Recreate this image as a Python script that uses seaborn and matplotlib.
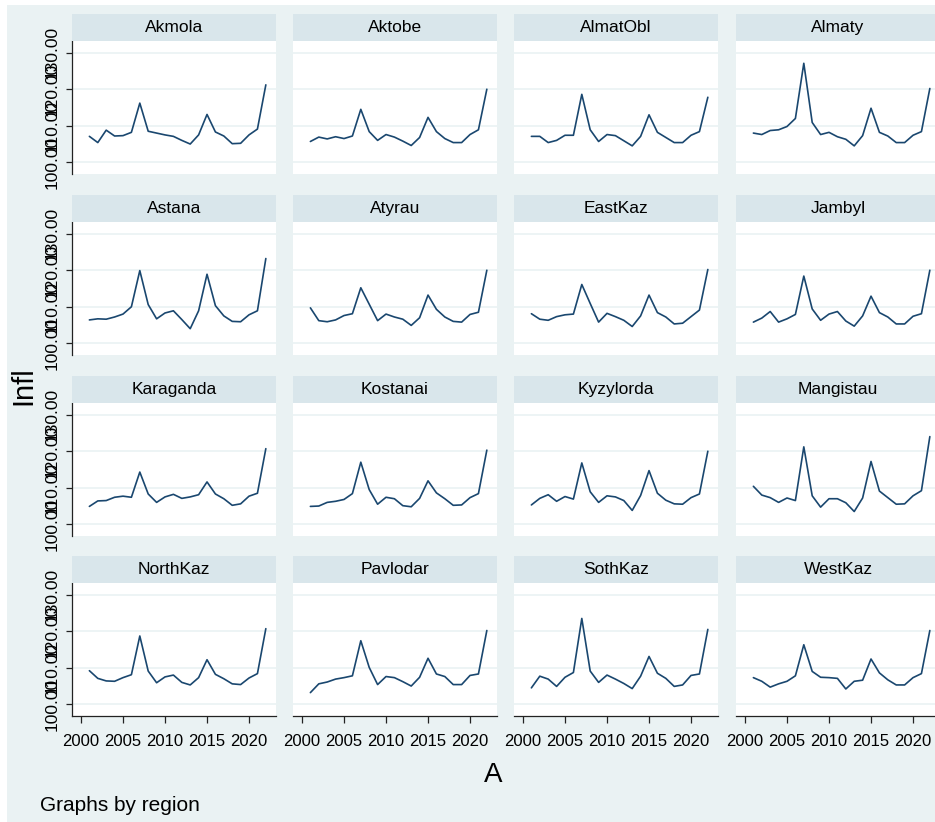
import matplotlib
matplotlib.use("Agg")
import matplotlib.pyplot as plt
from matplotlib.patches import Rectangle
from matplotlib.ticker import FormatStrFormatter
import seaborn as sns
import pandas as pd

# Annual inflation index by region, 2001-2022
years = list(range(2001, 2023))

regions = ["Akmola", "Aktobe", "AlmatObl", "Almaty",
           "Astana", "Atyrau", "EastKaz", "Jambyl",
           "Karaganda", "Kostanai", "Kyzylorda", "Mangistau",
           "NorthKaz", "Pavlodar", "SothKaz", "WestKaz"]

akmola = [107.1, 105.4, 108.8, 107.2, 107.3, 108.2, 116.2, 108.5, 108.0, 107.5, 107.1,
          106.0, 105.0, 107.5, 113.1, 108.3, 107.2, 105.1, 105.2, 107.5, 109.1, 121.2]
aktobe = [105.7, 106.9, 106.4, 107.0, 106.5, 107.2, 114.5, 108.4, 106.0, 107.6, 106.9,
          105.8, 104.6, 106.8, 112.3, 108.4, 106.5, 105.4, 105.4, 107.6, 108.9, 120.0]
almatobl = [107.1, 107.1, 105.4, 106.0, 107.4, 107.4, 118.6, 108.9, 105.7, 107.6, 107.3,
            105.9, 104.5, 107.1, 113.0, 108.2, 106.8, 105.4, 105.4, 107.4, 108.4, 117.8]
almaty = [108.0, 107.6, 108.7, 108.9, 109.8, 112.0, 127.1, 110.9, 107.6, 108.2, 107.0,
          106.3, 104.5, 107.3, 114.8, 108.2, 107.2, 105.4, 105.4, 107.4, 108.4, 120.2]
astana = [106.4, 106.7, 106.6, 107.2, 108.0, 110.0, 119.9, 110.6, 106.7, 108.3, 108.9,
          106.5, 104.0, 108.9, 118.9, 110.3, 107.5, 106.0, 105.9, 107.8, 108.9, 123.2]
atyrau = [109.7, 106.2, 105.9, 106.4, 107.6, 108.1, 115.2, 110.7, 106.2, 108.0, 107.2,
          106.6, 104.9, 107.0, 113.2, 109.3, 107.2, 106.0, 105.8, 107.9, 108.5, 120.0]
eastkaz = [108.1, 106.6, 106.3, 107.3, 107.8, 108.0, 116.1, 110.9, 105.8, 108.2, 107.3,
           106.3, 104.6, 107.5, 113.2, 108.4, 107.2, 105.3, 105.5, 107.3, 109.1, 120.2]
jambyl = [105.8, 106.9, 108.7, 105.8, 106.7, 107.9, 118.4, 109.4, 106.3, 108.0, 108.7,
          106.1, 104.7, 107.5, 112.9, 108.4, 107.2, 105.3, 105.3, 107.4, 108.1, 120.0]
karaganda = [104.9, 106.4, 106.5, 107.4, 107.7, 107.4, 114.3, 108.3, 106.0, 107.5, 108.2,
             107.1, 107.5, 108.1, 111.6, 108.3, 107.0, 105.2, 105.6, 107.7, 108.5, 120.7]
kostanai = [104.9, 105.0, 106.0, 106.3, 106.8, 108.4, 117.0, 109.5, 105.5, 107.4, 107.0,
            105.1, 104.8, 107.1, 111.9, 108.6, 107.0, 105.2, 105.3, 107.3, 108.4, 120.3]
kyzylorda = [105.3, 107.1, 108.1, 106.3, 107.6, 106.9, 116.8, 108.9, 106.0, 107.8, 107.5,
             106.5, 103.8, 107.9, 114.7, 108.5, 106.6, 105.6, 105.5, 107.3, 108.3, 120.0]
mangistau = [110.4, 108.0, 107.3, 106.0, 107.2, 106.5, 121.2, 107.8, 104.7, 107.0, 107.0,
             105.9, 103.5, 107.2, 117.2, 109.1, 107.3, 105.5, 105.6, 107.8, 109.2, 124.0]
northkaz = [109.2, 107.1, 106.4, 106.3, 107.3, 108.1, 118.7, 109.1, 105.9, 107.5, 108.0,
            106.0, 105.3, 107.3, 112.2, 108.2, 107.0, 105.6, 105.4, 107.2, 108.4, 120.7]
pavlodar = [103.2, 105.6, 106.1, 106.9, 107.3, 107.8, 117.4, 110.1, 105.4, 107.6, 107.3,
            106.2, 105.0, 107.4, 112.6, 108.3, 107.6, 105.4, 105.4, 107.9, 108.3, 120.2]
sothkaz = [104.5, 107.7, 106.9, 104.9, 107.4, 108.7, 123.5, 109.1, 106.0, 108.0, 106.9,
           105.7, 104.3, 107.7, 113.1, 108.5, 107.1, 104.9, 105.3, 107.9, 108.3, 120.5]
westkaz = [107.3, 106.3, 104.7, 105.6, 106.3, 107.8, 116.3, 109.0, 107.4, 107.3, 107.1,
           104.2, 106.3, 106.6, 112.4, 108.6, 106.7, 105.3, 105.3, 107.3, 108.4, 120.2]

series = [akmola, aktobe, almatobl, almaty, astana, atyrau, eastkaz, jambyl,
          karaganda, kostanai, kyzylorda, mangistau, northkaz, pavlodar, sothkaz, westkaz]

y_ticks = [100, 110, 120, 130]
x_ticks = [2000, 2005, 2010, 2015, 2020]

df = pd.DataFrame({
    "region": [r for r in regions for _ in years],
    "A": years * len(regions),
    "Infl": [v for s in series for v in s],
})

BG = "#EAF2F3"
STRIP = "#D9E6EB"
GRID = "#EAF2F3"
LINE = "#1A476F"

sns.set_theme(style="white")
plt.rcParams["font.family"] = ["Liberation Sans", "DejaVu Sans"]

W, H = 935, 822
fig = plt.figure(figsize=(W / 100, H / 100), dpi=100)
fig.patch.set_facecolor("white")
fig.add_artist(Rectangle((7 / W, 0), 1, (H - 5) / H, transform=fig.transFigure,
                         facecolor=BG, edgecolor="none", zorder=-10))

col_x = [72, 293, 514, 736]
row_y = [41, 222, 403, 583]
pw, ph, sh = 204, 133, 27

for i, reg in enumerate(regions):
    r, c = divmod(i, 4)
    left = col_x[c] / W
    bottom = (H - row_y[r] - ph) / H
    ax = fig.add_axes([left, bottom, pw / W, ph / H])
    ax.set_facecolor("white")

    # strip header above each panel
    fig.add_artist(Rectangle((left, (H - row_y[r]) / H), pw / W, sh / H,
                             transform=fig.transFigure, facecolor=STRIP,
                             edgecolor="none", zorder=1))
    fig.text((col_x[c] + pw / 2) / W, (H - row_y[r] + sh / 2) / H, reg,
             ha="center", va="center", fontsize=12.5, color="black", zorder=2)

    sub = df[df["region"] == reg]
    sns.lineplot(data=sub, x="A", y="Infl", ax=ax, color=LINE,
                 linewidth=1.2, legend=False)

    ax.set_xlim(1998.93, 2023.21)
    ax.set_ylim(96.8, 133.2)
    ax.set_yticks(y_ticks)
    ax.set_xticks(x_ticks)
    ax.yaxis.set_major_formatter(FormatStrFormatter("%.2f"))
    ax.yaxis.grid(True, color=GRID, linewidth=1.2)
    ax.xaxis.grid(False)
    ax.set_axisbelow(True)
    ax.set_xlabel("")
    ax.set_ylabel("")

    for s in ax.spines.values():
        s.set_visible(False)
    if c == 0:
        ax.spines["left"].set_visible(True)
        ax.spines["left"].set_color("#222222")
        ax.spines["left"].set_linewidth(0.9)
    if r == 3:
        ax.spines["bottom"].set_visible(True)
        ax.spines["bottom"].set_color("#222222")
        ax.spines["bottom"].set_linewidth(0.9)

    ax.tick_params(axis="y", left=(c == 0), labelleft=(c == 0), length=4,
                   width=0.9, color="#222222", pad=5, labelsize=12.5,
                   labelrotation=90, labelcolor="black")
    for lab in ax.get_yticklabels():
        lab.set_va("center")
    ax.tick_params(axis="x", bottom=(r == 3), labelbottom=(r == 3), length=5,
                   width=0.9, color="#222222", pad=8, labelsize=12,
                   labelcolor="black")

fig.text(23 / W, 1 - 386 / H, "Infl", rotation=90, ha="center", va="center",
         fontsize=21, color="black")
fig.text(493 / W, 1 - 775 / H, "A", ha="center", va="center",
         fontsize=20, color="black")
fig.text(40 / W, 1 - 805 / H, "Graphs by region", ha="left", va="center",
         fontsize=15, color="black")

fig.savefig("out.png", dpi=100, facecolor=fig.get_facecolor())
